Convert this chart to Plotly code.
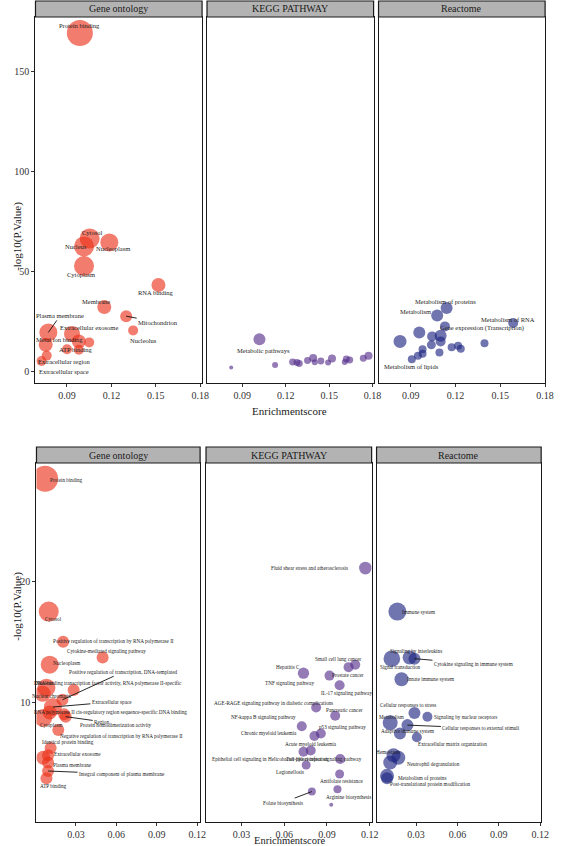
import math
import plotly.graph_objects as go

# ---------------- DATA ----------------
go_top_terms = ["Protein binding", "Cytosol", "Nucleus", "Nucleoplasm", "Cytoplasm", "RNA binding",
                "Membrane", "Mitochondrion", "Nucleolus", "Plasma membrane", "Extracellular exosome",
                "Metal ion binding", "ATP binding", "Extracellular region", "Extracellular space", "", "", ""]
go_top_score = [0.0987, 0.1053, 0.1015, 0.1186, 0.1015, 0.1518, 0.1152, 0.130, 0.1347, 0.0774, 0.0934,
                0.0756, 0.090, 0.0728, 0.0763, 0.098, 0.105, 0.098]
go_top_logp = [169, 66.3, 62.3, 64.3, 52.5, 43, 32, 27.4, 20.3, 19.3, 18.5, 13.1, 10.9, 5.0, 7.7, 14.8, 14.3, 10.6]
go_top_count = [845, 500, 500, 405, 500, 245, 245, 180, 125, 405, 320, 245, 125, 125, 125, 245, 125, 125]

kegg_top_terms = ["Metabolic pathways"] + [""] * 16
kegg_top_score = [0.1019, 0.0824, 0.1127, 0.1248, 0.1278, 0.1294, 0.1351, 0.139, 0.1401, 0.1443, 0.1493,
                  0.152, 0.1608, 0.1619, 0.1642, 0.1736, 0.1772]
kegg_top_logp = [15.9, 1.7, 3.0, 4.5, 4.2, 3.7, 5.2, 6.5, 4.4, 5.0, 4.2, 6.2, 4.5, 6.0, 5.5, 6.4, 7.6]
kegg_top_count = [180, 20, 45, 61, 61, 61, 61, 80, 45, 61, 45, 80, 45, 61, 61, 61, 80]

rea_top_terms = ["Metabolism of proteins", "Metabolism", "Metabolism of RNA", "Gene expression (Transcription)",
                 "Metabolism of lipids"] + [""] * 14
rea_top_score = [0.114, 0.1077, 0.1586, 0.1129, 0.0907, 0.0957, 0.0828, 0.1043, 0.110, 0.110, 0.1038,
                 0.0979, 0.0979, 0.0948, 0.1092, 0.1174, 0.1217, 0.1235, 0.1394]
rea_top_logp = [31.5, 27.7, 24, 22.3, 5.9, 19.3, 14.8, 17.3, 17.6, 14.8, 13.1, 10.9, 8.6, 7.6, 9.2, 11.9,
                12.6, 11.1, 13.9]
rea_top_count = [180, 180, 125, 125, 80, 180, 211, 125, 180, 125, 101, 80, 80, 80, 80, 80, 80, 80, 80]

go_bot_terms = ["Protein binding", "Cytosol", "Positive regulation of transcription by RNA polymerase II",
                "Cytokine-mediated signaling pathway", "Nucleoplasm",
                "DNA-binding transcription factor activity, RNA polymerase II-specific", "Nucleus",
                "Positive regulation of transcription, DNA-templated", "Extracellular space",
                "RNA polymerase II cis-regulatory region sequence-specific DNA binding", "Cytoplasm",
                "Protein homodimerization activity", "Negative regulation of transcription by RNA polymerase II",
                "Identical protein binding", "Extracellular exosome", "Plasma membrane",
                "Integral component of plasma membrane", "ATP binding", "", "Region", "Nuclear chromatin"]
go_bot_score = [0.0071, 0.0098, 0.0205, 0.0498, 0.0105, 0.0283, 0.0081, 0.020, 0.0129, 0.0105, 0.0057,
                0.0212, 0.0169, 0.0112, 0.0057, 0.0093, 0.0093, 0.0081, 0.0093, 0.0224, 0.0053]
go_bot_logp = [28.5, 17.5, 15.0, 13.7, 13.1, 11.0, 11.2, 10.2, 9.6, 9.15, 8.7, 9.0, 7.7, 6.2, 5.4, 5.0,
               4.3, 3.7, 5.6, 8.8, 10.7]
go_bot_count = [845, 500, 180, 180, 405, 180, 405, 180, 405, 245, 405, 180, 180, 180, 245, 180, 180, 180, 180,
                180, 320]

kegg_bot_terms = ["Fluid shear stress and atherosclerosis", "Hepatitis C", "Small cell lung cancer",
                  "Prostate cancer", "TNF signaling pathway", "IL-17 signaling pathway",
                  "AGE-RAGE signaling pathway in diabetic complications", "Pancreatic cancer",
                  "NF-kappa B signaling pathway", "p53 signaling pathway", "Chronic myeloid leukemia",
                  "Acute myeloid leukemia", "Epithelial cell signaling in Helicobacter pylori infection",
                  "Toll-like receptor signaling pathway", "Legionellosis", "Antifolate resistance",
                  "Arginine biosynthesis", "Folate biosynthesis", ""]
kegg_bot_score = [0.117, 0.0735, 0.1052, 0.1099, 0.0918, 0.0989, 0.0824, 0.0958, 0.0723, 0.0857, 0.0812,
                  0.0786, 0.0735, 0.0993, 0.0754, 0.0989, 0.0974, 0.0794, 0.0930]
kegg_bot_logp = [21.1, 12.4, 12.9, 13.1, 12.2, 11.4, 9.56, 8.87, 8.0, 7.4, 7.2, 6.0, 5.9, 5.3, 4.8, 4.05,
                 2.8, 2.6, 1.5]
kegg_bot_count = [200, 160, 125, 125, 125, 125, 125, 125, 125, 125, 125, 125, 125, 125, 101, 101, 80, 80, 20]

rea_bot_terms = ["Immune system", "Signal transduction", "Signaling by interleukins",
                 "Cytokine signaling in immune system", "Innate immune system", "Cellular responses to stress",
                 "Signaling by nuclear receptors", "Metabolism", "Cellular responses to external stimuli",
                 "Adaptive immune system", "Extracellular matrix organization", "Hemostasis",
                 "Neutrophil degranulation", "Metabolism of proteins", "Post-translational protein modification", ""]
rea_bot_score = [0.0164, 0.0124, 0.0253, 0.0288, 0.0194, 0.0288, 0.0382, 0.0112, 0.0237, 0.0183, 0.0305,
                 0.0112, 0.0171, 0.0089, 0.0089, 0.0136]
rea_bot_logp = [17.5, 13.6, 13.7, 13.6, 11.9, 9.1, 8.8, 8.3, 8.1, 7.4, 7.1, 5.0, 5.4, 3.9, 3.7, 5.6]
rea_bot_count = [405, 345, 245, 180, 245, 180, 125, 281, 180, 180, 125, 245, 245, 245, 180, 245]

facet_names = ["Gene ontology", "KEGG PATHWAY", "Reactome"]
x_ticks_top = [0.09, 0.12, 0.15, 0.18]
x_ticks_bot = [0.03, 0.06, 0.09, 0.12]
y_ticks_top = [0, 50, 100, 150]
y_ticks_bot = [0, 10, 20]

# ---------------- STYLE / LAYOUT ----------------
W, H = 561, 846
FONT = "Liberation Serif"
colors = ["rgba(234,48,24,0.9)", "rgba(86,46,140,0.9)", "rgba(28,36,128,0.9)"]


def size_scale(c):
    return 2 * math.sqrt(c / 5.0)


offs = {
    ("t", "Protein binding"): (0, -7, 0), ("t", "Cytosol"): (2, -6, 0), ("t", "Nucleus"): (-8, 0, 0),
    ("t", "Nucleoplasm"): (4, 6, 0), ("t", "Cytoplasm"): (-3, 8, 0), ("t", "RNA binding"): (-2, 7, 0),
    ("t", "Membrane"): (-8, -6, 0), ("t", "Mitochondrion"): (32, 6, 1), ("t", "Nucleolus"): (10, 10, 0),
    ("t", "Plasma membrane"): (12, -17, 1), ("t", "Extracellular exosome"): (17, -7, 0),
    ("t", "Metal ion binding"): (14, -5, 0), ("t", "ATP binding"): (9, 0, 0),
    ("t", "Extracellular region"): (23, 0, 0), ("t", "Extracellular space"): (17, 16, 0),
    ("t", "Metabolic pathways"): (4, 11, 0),
    ("t", "Metabolism of proteins"): (-1, -7, 0), ("t", "Metabolism"): (-22, -4, 0),
    ("t", "Metabolism of RNA"): (-5, -4, 0), ("t", "Gene expression (Transcription)"): (37, 2, 0),
    ("t", "Metabolism of lipids"): (0, 7, 0),
    ("b", "Protein binding"): (21, 1, 0), ("b", "Cytosol"): (5, 7, 0),
    ("b", "Positive regulation of transcription by RNA polymerase II"): (50, -1, 0),
    ("b", "Cytokine-mediated signaling pathway"): (4, -6, 0), ("b", "Nucleoplasm"): (17, -2, 0),
    ("b", "DNA-binding transcription factor activity, RNA polymerase II-specific"): (34, -7, 0),
    ("b", "Nucleus"): (-2, -5, 0),
    ("b", "Positive regulation of transcription, DNA-templated"): (61, -28, 1),
    ("b", "Extracellular space"): (59, -5, 1),
    ("b", "RNA polymerase II cis-regulatory region sequence-specific DNA binding"): (61, 0, 0),
    ("b", "Cytoplasm"): (8, 7, 0), ("b", "Protein homodimerization activity"): (52, 11, 0),
    ("b", "Negative regulation of transcription by RNA polymerase II"): (63, 6, 0),
    ("b", "Identical protein binding"): (17, -6, 0), ("b", "Extracellular exosome"): (34, -4, 0),
    ("b", "Plasma membrane"): (24, 2, 0), ("b", "Integral component of plasma membrane"): (74, 3, 1),
    ("b", "ATP binding"): (7, 8, 0), ("b", "Region"): (36, 5, 1), ("b", "Nuclear chromatin"): (9, 2, 0),
    ("b", "Fluid shear stress and atherosclerosis"): (-56, 0, 0), ("b", "Hepatitis C"): (-15, -6, 0),
    ("b", "Small cell lung cancer"): (-10, -8, 0), ("b", "Prostate cancer"): (-7, 10, 0),
    ("b", "TNF signaling pathway"): (-40, 7, 0), ("b", "IL-17 signaling pathway"): (7, 8, 0),
    ("b", "AGE-RAGE signaling pathway in diabetic complications"): (-43, -4, 0),
    ("b", "Pancreatic cancer"): (9, -6, 0), ("b", "NF-kappa B signaling pathway"): (-38, -9, 0),
    ("b", "p53 signaling pathway"): (22, -7, 0), ("b", "Chronic myeloid leukemia"): (-45, -3, 0),
    ("b", "Acute myeloid leukemia"): (0, -6, 0),
    ("b", "Epithelial cell signaling in Helicobacter pylori infection"): (-33, 7, 0),
    ("b", "Toll-like receptor signaling pathway"): (-16, 0, 0), ("b", "Legionellosis"): (-16, 7, 0),
    ("b", "Antifolate resistance"): (2, 7, 0), ("b", "Arginine biosynthesis"): (11, 8, 0),
    ("b", "Folate biosynthesis"): (-29, 11, 1),
    ("b", "Immune system"): (21, 0, 0), ("b", "Signal transduction"): (9, 8, 0),
    ("b", "Signaling by interleukins"): (6, -6, 0), ("b", "Cytokine signaling in immune system"): (59, 5, 1),
    ("b", "Innate immune system"): (29, 0, 0), ("b", "Cellular responses to stress"): (-6, -8, 0),
    ("b", "Signaling by nuclear receptors"): (38, 0, 0), ("b", "Metabolism"): (1, -6, 0),
    ("b", "Cellular responses to external stimuli"): (74, 3, 1), ("b", "Adaptive immune system"): (8, -3, 0),
    ("b", "Extracellular matrix organization"): (36, 7, 0), ("b", "Hemostasis"): (-2, -11, 0),
    ("b", "Neutrophil degranulation"): (35, 6, 0), ("b", "Metabolism of proteins"): (35, 2, 0),
    ("b", "Post-translational protein modification"): (43, 6, 0),
}


def px(v):
    return v / W


def py(v):
    return 1 - v / H


top_y = [py(383), py(17)]
bot_y = [py(822), py(463)]
top_x = [(36, 205), (210, 379), (384, 553)]
bot_x = [(37, 203), (209, 377), (382, 549)]
top_xr = [[0.0687, 0.1813], [0.0657, 0.1807], [0.0684, 0.180]]
bot_xr = [[0.0007, 0.1222], [0.005, 0.1214], [0.0013, 0.1207]]

panels = [
    ("t", 0, go_top_terms, go_top_score, go_top_logp, go_top_count),
    ("t", 1, kegg_top_terms, kegg_top_score, kegg_top_logp, kegg_top_count),
    ("t", 2, rea_top_terms, rea_top_score, rea_top_logp, rea_top_count),
    ("b", 0, go_bot_terms, go_bot_score, go_bot_logp, go_bot_count),
    ("b", 1, kegg_bot_terms, kegg_bot_score, kegg_bot_logp, kegg_bot_count),
    ("b", 2, rea_bot_terms, rea_bot_score, rea_bot_logp, rea_bot_count),
]

fig = go.Figure()
annotations = []
shapes = []
layout = {}
for i, (row, col, terms, xs, ys, cnt) in enumerate(panels):
    n = i + 1
    xa = "x" if n == 1 else f"x{n}"
    ya = "y" if n == 1 else f"y{n}"
    fig.add_trace(go.Scatter(
        x=xs, y=ys, mode="markers", xaxis=xa, yaxis=ya, text=terms, showlegend=False,
        customdata=cnt,
        marker=dict(size=[size_scale(c) for c in cnt], sizemode="diameter", color=colors[col],
                    line=dict(width=0)),
        hovertemplate="%{text}<br>%{x}<br>%{y}<br>Count %{customdata}<extra></extra>"))
    xd = top_x[col] if row == "t" else bot_x[col]
    yd = top_y if row == "t" else bot_y
    ticks_x = x_ticks_top if row == "t" else x_ticks_bot
    layout["xaxis" + ("" if n == 1 else str(n))] = dict(
        domain=[px(xd[0]), px(xd[1])], anchor=ya,
        range=top_xr[col] if row == "t" else bot_xr[col],
        tickvals=ticks_x, ticktext=[f"{v:.2f}" for v in ticks_x],
        showgrid=False, zeroline=False, showline=True, mirror=True, linecolor="#1a1a1a", linewidth=1.4,
        ticks="outside", ticklen=3, tickcolor="#333", tickfont=dict(family=FONT, size=10, color="#333"))
    layout["yaxis" + ("" if n == 1 else str(n))] = dict(
        domain=yd, anchor=xa,
        range=[-6, 177] if row == "t" else [0.08, 29.8],
        tickvals=y_ticks_top if row == "t" else y_ticks_bot,
        showgrid=False, zeroline=False, showline=True, mirror=True, linecolor="#1a1a1a", linewidth=1.4,
        ticks="outside" if col == 0 else "", ticklen=3, tickcolor="#333", showticklabels=(col == 0),
        tickfont=dict(family=FONT, size=10, color="#333"))
    s_top = 1 if row == "t" else 447
    s_bot = 17 if row == "t" else 463
    shapes.append(dict(type="rect", xref="paper", yref="paper", x0=px(xd[0]), x1=px(xd[1]),
                       y0=py(s_bot), y1=py(s_top), fillcolor="#b3b3b3", line=dict(color="#1a1a1a", width=1.2)))
    annotations.append(dict(xref="paper", yref="paper", x=px((xd[0] + xd[1]) / 2), y=py((s_top + s_bot) / 2),
                            text=facet_names[col], showarrow=False, xanchor="center", yanchor="middle",
                            font=dict(family=FONT, size=10, color="#1a1a1a")))
    fs = 6.5 if row == "t" else 5.2
    for t, x, y in zip(terms, xs, ys):
        if not t or (row, t) not in offs:
            continue
        dx, dy, arrow = offs[(row, t)]
        if arrow:
            annotations.append(dict(x=x, y=y, xref=xa, yref=ya, text=t, showarrow=True, arrowhead=0,
                                    arrowwidth=0.9, arrowcolor="#111", ax=dx, ay=dy, standoff=0,
                                    font=dict(family=FONT, size=fs, color="#222")))
        else:
            annotations.append(dict(x=x, y=y, xref=xa, yref=ya, text=t, showarrow=False,
                                    xshift=dx, yshift=-dy, xanchor="center", yanchor="middle",
                                    font=dict(family=FONT, size=fs, color="#222")))

for yc in (200, 643):
    annotations.append(dict(xref="paper", yref="paper", x=px(9), y=py(yc), text="-log10(P.Value)",
                            textangle=-90, showarrow=False, font=dict(family=FONT, size=11, color="#1a1a1a")))
for yc, fsz in ((411, 11), (840, 10.5)):
    annotations.append(dict(xref="paper", yref="paper", x=px(294), y=py(yc), text="Enrichmentscore",
                            showarrow=False, yanchor="middle", font=dict(family=FONT, size=fsz, color="#1a1a1a")))

fig.update_layout(width=W, height=H, margin=dict(l=0, r=0, t=0, b=0), paper_bgcolor="white",
                  plot_bgcolor="white", annotations=annotations, shapes=shapes, **layout)
fig.write_html("out.html", config={"displayModeBar": False},
               post_script="document.body.style.margin='0px';document.body.style.overflow='hidden';")
